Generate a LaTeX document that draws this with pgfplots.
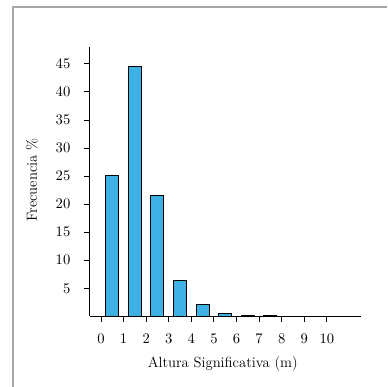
\documentclass[border=0pt]{standalone}
\usepackage{pgfplots}
\pgfplotsset{compat=1.18}
\definecolor{barblue}{RGB}{62,176,228}
\begin{document}
\begin{tikzpicture}[x=0.75pt,y=0.75pt]
\path[use as bounding box] (0,0) rectangle (387,387);
\draw[gray!70,line width=0.8pt] (13,0) -- (13,380) -- (387,380);
\begin{axis}[
  at={(101*0.75pt,70.6*0.75pt)}, anchor=origin,
  scale only axis, width=203.25pt, height=202pt,
  xmin=-0.5, xmax=11.5, ymin=0, ymax=48,
  axis lines=left, axis line style={-, line width=0.8pt},
  xtick={0,...,10}, ytick={5,10,...,45},
  tick align=outside, major tick length=4pt,
  tick style={black, line width=0.7pt},
  font=\fontsize{11}{13}\selectfont,
  xticklabel style={yshift=-6pt},
  yticklabel style={xshift=-7pt},
  xlabel={Altura Significativa (m)},
  ylabel={Frecuencia \%},
  every axis x label/.style={at={(axis description cs:0.491,-0.177)}, anchor=center},
  every axis y label/.style={at={(axis description cs:-0.214,0.506)}, rotate=90, anchor=center},
  ybar, bar width=9.75pt,
  clip=false,
]
\addplot[fill=barblue, draw=black, line width=0.8pt] coordinates {
(0.5,25.1) (1.5,44.6) (2.5,21.5) (3.5,6.35) (4.5,2.1) (5.5,0.5)
(6.5,0.1) (7.5,0.08) (8.5,0.06) (9.5,0.05) (10.5,0.04)};
\end{axis}
\end{tikzpicture}
\end{document}
